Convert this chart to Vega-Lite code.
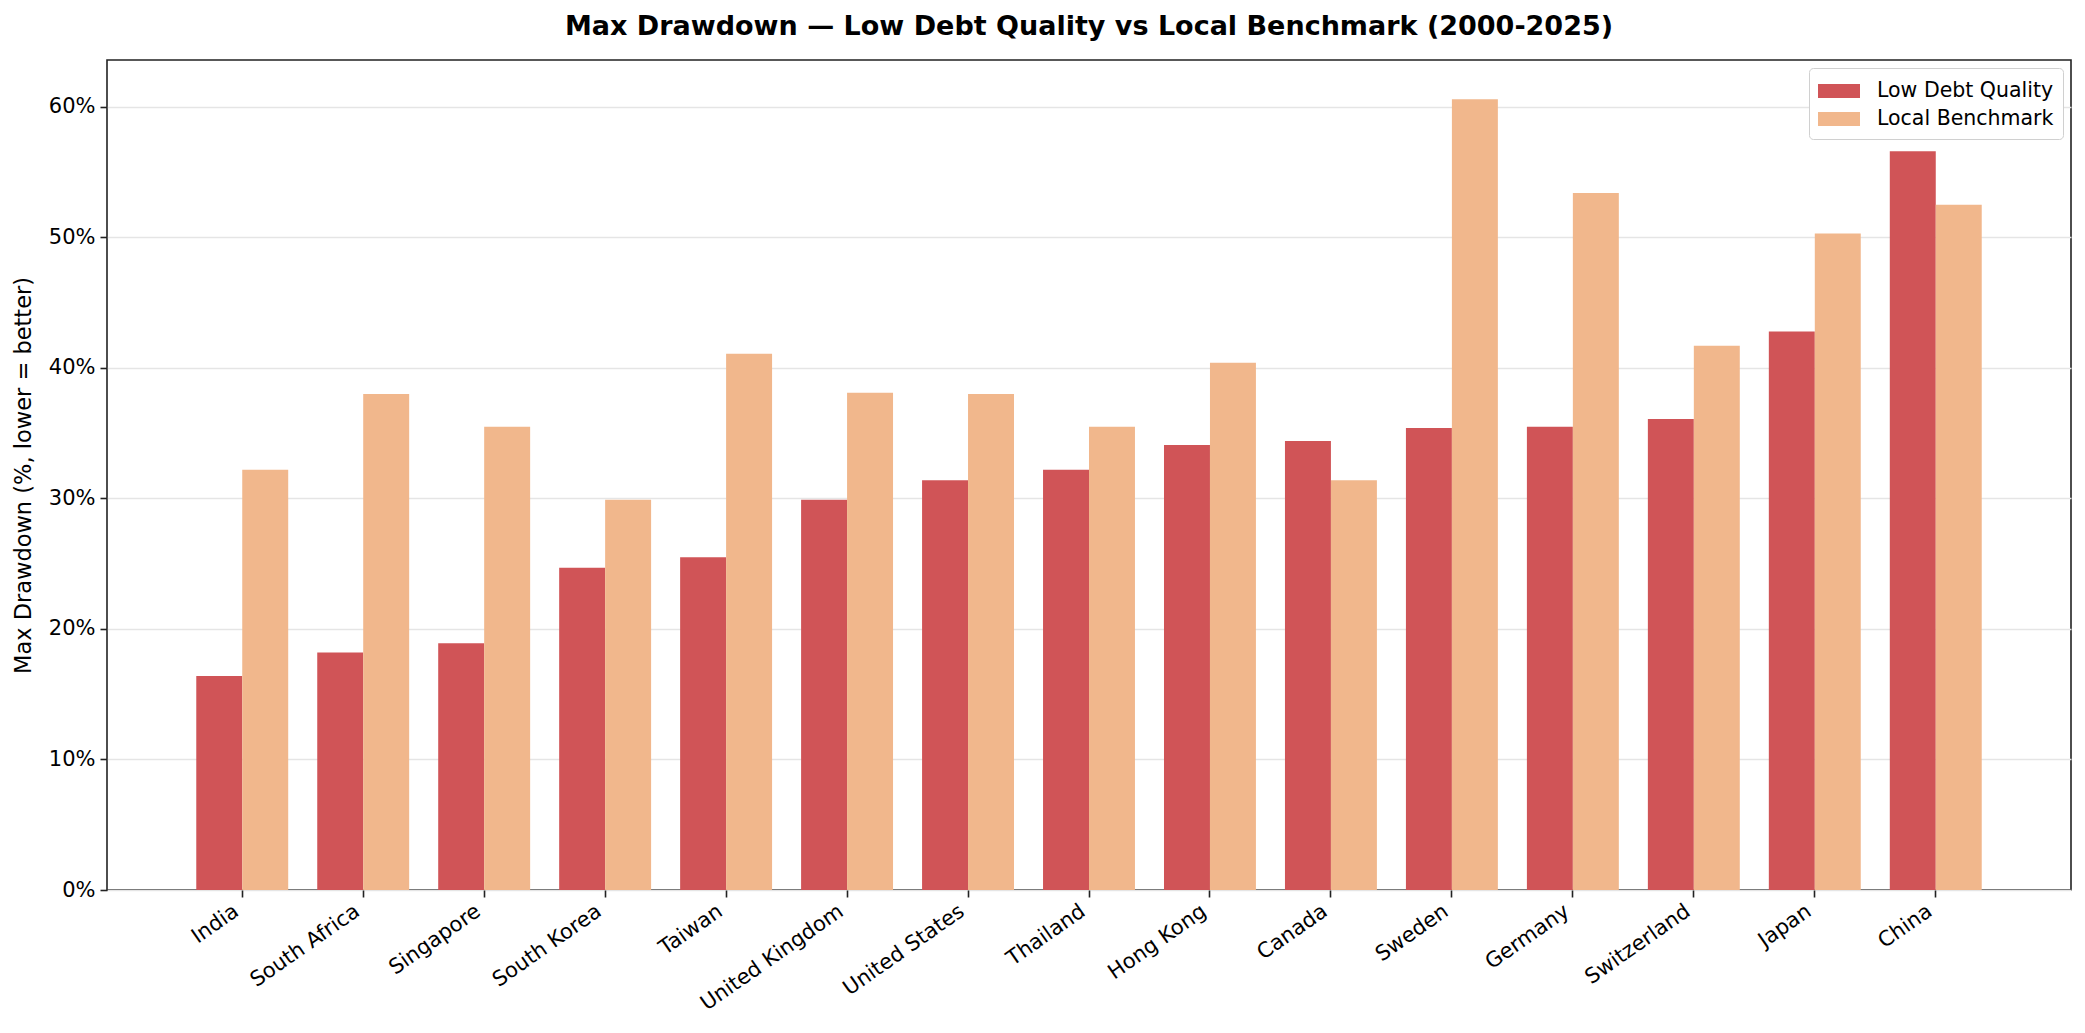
{
  "$schema": "https://vega.github.io/schema/vega-lite/v6.json",
  "autosize": {"type": "none"},
  "padding": {"left": 107, "top": 60, "right": 14, "bottom": 143},
  "width": 1964,
  "height": 830,
  "background": "white",
  "title": {
    "text": "Max Drawdown — Low Debt Quality vs Local Benchmark (2000-2025)",
    "font": "DejaVu Sans",
    "fontSize": 27,
    "fontWeight": "bold",
    "color": "#000000",
    "anchor": "middle",
    "offset": 19
  },
  "config": {
    "font": "DejaVu Sans",
    "view": {"stroke": "#222222", "strokeWidth": 1.6},
    "axis": {
      "labelFont": "DejaVu Sans",
      "titleFont": "DejaVu Sans",
      "labelColor": "#000000",
      "titleColor": "#000000",
      "domain": false,
      "tickColor": "#222222",
      "tickWidth": 1.6,
      "tickSize": 7,
      "labelFontSize": 21,
      "titleFontSize": 22.5,
      "titleFontWeight": "normal"
    }
  },
  "data": {
    "values": [
      {"country": "India", "series": "Low Debt Quality", "value": 16.4},
      {"country": "India", "series": "Local Benchmark", "value": 32.2},
      {"country": "South Africa", "series": "Low Debt Quality", "value": 18.2},
      {"country": "South Africa", "series": "Local Benchmark", "value": 38.0},
      {"country": "Singapore", "series": "Low Debt Quality", "value": 18.9},
      {"country": "Singapore", "series": "Local Benchmark", "value": 35.5},
      {"country": "South Korea", "series": "Low Debt Quality", "value": 24.7},
      {"country": "South Korea", "series": "Local Benchmark", "value": 29.9},
      {"country": "Taiwan", "series": "Low Debt Quality", "value": 25.5},
      {"country": "Taiwan", "series": "Local Benchmark", "value": 41.1},
      {"country": "United Kingdom", "series": "Low Debt Quality", "value": 29.9},
      {"country": "United Kingdom", "series": "Local Benchmark", "value": 38.1},
      {"country": "United States", "series": "Low Debt Quality", "value": 31.4},
      {"country": "United States", "series": "Local Benchmark", "value": 38.0},
      {"country": "Thailand", "series": "Low Debt Quality", "value": 32.2},
      {"country": "Thailand", "series": "Local Benchmark", "value": 35.5},
      {"country": "Hong Kong", "series": "Low Debt Quality", "value": 34.1},
      {"country": "Hong Kong", "series": "Local Benchmark", "value": 40.4},
      {"country": "Canada", "series": "Low Debt Quality", "value": 34.4},
      {"country": "Canada", "series": "Local Benchmark", "value": 31.4},
      {"country": "Sweden", "series": "Low Debt Quality", "value": 35.4},
      {"country": "Sweden", "series": "Local Benchmark", "value": 60.6},
      {"country": "Germany", "series": "Low Debt Quality", "value": 35.5},
      {"country": "Germany", "series": "Local Benchmark", "value": 53.4},
      {"country": "Switzerland", "series": "Low Debt Quality", "value": 36.1},
      {"country": "Switzerland", "series": "Local Benchmark", "value": 41.7},
      {"country": "Japan", "series": "Low Debt Quality", "value": 42.8},
      {"country": "Japan", "series": "Local Benchmark", "value": 50.3},
      {"country": "China", "series": "Low Debt Quality", "value": 56.6},
      {"country": "China", "series": "Local Benchmark", "value": 52.5}
    ]
  },
  "mark": {"type": "bar"},
  "encoding": {
    "x": {
      "field": "country",
      "type": "nominal",
      "sort": null,
      "scale": {"paddingInner": 0.24, "paddingOuter": 0.738},
      "axis": {
        "title": null,
        "labelAngle": -35,
        "labelAlign": "right",
        "labelBaseline": "top",
        "labelPadding": 3,
        "labelOffset": -12,
        "grid": false
      }
    },
    "xOffset": {
      "field": "series",
      "type": "nominal",
      "sort": ["Low Debt Quality", "Local Benchmark"],
      "scale": {"paddingInner": 0, "paddingOuter": 0}
    },
    "y": {
      "field": "value",
      "type": "quantitative",
      "scale": {"domain": [0, 63.6], "nice": false, "zero": true},
      "axis": {
        "title": "Max Drawdown (%, lower = better)",
        "values": [0, 10, 20, 30, 40, 50, 60],
        "labelExpr": "datum.value + '%'",
        "grid": true,
        "gridColor": "#e5e5e5",
        "gridWidth": 1.3,
        "labelPadding": 5,
        "titlePadding": 13
      }
    },
    "color": {
      "field": "series",
      "type": "nominal",
      "sort": ["Low Debt Quality", "Local Benchmark"],
      "scale": {
        "domain": ["Low Debt Quality", "Local Benchmark"],
        "range": ["#d05457", "#f1b78c"]
      },
      "legend": {
        "title": null,
        "orient": "top-right",
        "offset": 8,
        "padding": 9,
        "fillColor": "white",
        "strokeColor": "#d0d0d0",
        "cornerRadius": 4,
        "labelFont": "DejaVu Sans",
        "labelFontSize": 20.5,
        "labelLimit": 400,
        "labelColor": "#000000",
        "labelOffset": 31,
        "symbolType": "M-1,-0.5L2,-0.5L2,0.5L-1,0.5Z",
        "symbolSize": 784,
        "symbolStrokeWidth": 0,
        "symbolOpacity": 1,
        "rowPadding": 3
      }
    }
  }
}
